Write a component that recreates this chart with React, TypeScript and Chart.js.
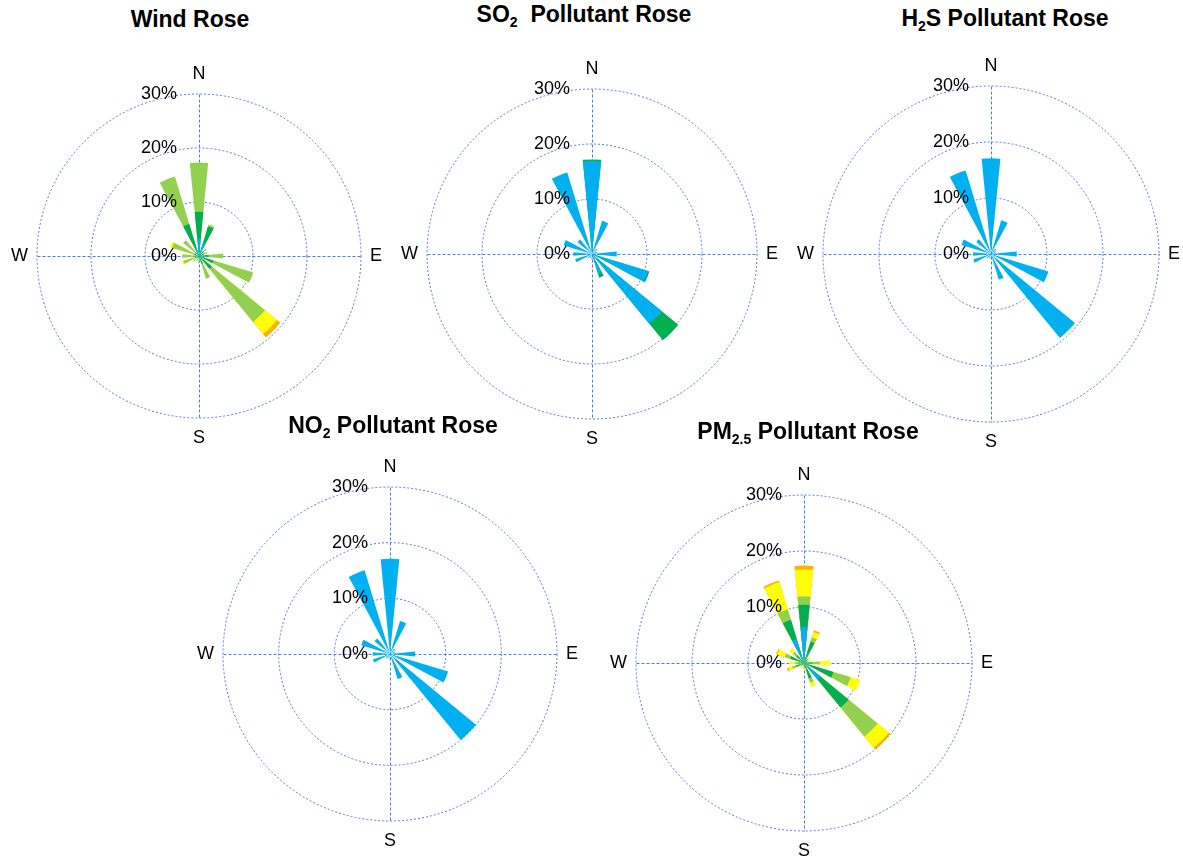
import React, { useEffect, useRef } from 'react';
import { Chart, registerables } from 'chart.js';

Chart.register(...registerables);

// ---------- data ----------
const directions = ['N', 'NNE', 'NE', 'ENE', 'E', 'ESE', 'SE', 'SSE', 'S', 'SSW', 'SW', 'WSW', 'W', 'WNW', 'NW', 'NNW'];
const cardinalLabels = ['N', 'E', 'S', 'W'];
const tickValues = [0, 10, 20, 30];
const classNames = ['Class 1', 'Class 2', 'Class 3', 'Class 4', 'Class 5'];
const classColors = ['#00B0F0', '#00B050', '#92D050', '#FFFF00', '#FFB000'];

// Wind rose (% of time, stacked increments per class)
const windBlue = [3.3, 2.5, 0.8, 0.5, 0.5, 1.0, 1.0, 0.5, 0.3, 0.3, 0.3, 0.3, 0.3, 0.3, 0.3, 1.5];
const windDarkGreen = [4.9, 3.2, 0.4, 0.5, 1.3, 1.8, 2.1, 1.0, 0.3, 0.2, 0.3, 0.5, 0.5, 0.7, 0.7, 4.7];
const windLightGreen = [9.1, 0.4, 0.6, 0.6, 2.7, 7.7, 12.7, 2.9, 0.7, 0.5, 0.8, 2.2, 2.3, 4.2, 2.8, 9.2];
const windYellow = [0, 0, 0, 0, 0, 0, 2.9, 0, 0, 0, 0, 0.3, 0, 0.4, 0, 0];
const windOrange = [0, 0, 0, 0, 0, 0, 0.8, 0, 0, 0, 0, 0, 0, 0, 0, 0];

// SO2 pollutant rose
const so2Blue = [16.9, 6.3, 1.2, 1.0, 4.5, 10.7, 16.4, 3.8, 1.0, 0.8, 1.0, 3.2, 3.4, 5.4, 3.4, 15.5];
const so2DarkGreen = [0.3, 0, 0, 0, 0, 0.2, 3.9, 0.7, 0, 0, 0, 0, 0, 0, 0, 0];

// H2S pollutant rose
const h2sBlue = [17.1, 6.3, 1.2, 1.0, 4.6, 10.7, 19.4, 4.8, 1.0, 0.8, 1.0, 3.3, 3.2, 5.5, 3.4, 15.6];

// NO2 pollutant rose
const no2Blue = [17.1, 6.2, 1.2, 1.0, 4.5, 10.9, 20.0, 4.7, 1.0, 0.8, 1.0, 3.2, 3.1, 5.4, 3.6, 15.7];

// PM2.5 pollutant rose
const pmBlue = [6.4, 1.8, 0.4, 0.3, 0.5, 0.8, 3.8, 0.8, 0.3, 0.2, 0.3, 0.4, 0.4, 1.0, 0.8, 4.5];
const pmDarkGreen = [4.0, 2.2, 0.4, 0.3, 1.0, 4.7, 6.5, 2.1, 0.3, 0.2, 0.2, 1.1, 0.6, 1.6, 1.0, 3.55];
const pmLightGreen = [1.5, 0.8, 0.3, 0.3, 1.3, 3.2, 6.7, 0.8, 0.3, 0.2, 0.3, 0.7, 0.6, 1.0, 0.8, 1.95];
const pmYellow = [4.8, 1.0, 0.4, 0.3, 1.9, 1.8, 2.6, 0.8, 0.3, 0.3, 0.3, 0.7, 1.1, 1.4, 0.8, 5.1];
const pmOrange = [0.7, 0.3, 0, 0, 0, 0, 0.4, 0, 0, 0, 0, 0.3, 0, 0.2, 0, 0.3];

// ---------- styling ----------
const PAD = 48;
const GRID_COLOR = '#4A7FCF';
const TEXT_FONT = '18px "Liberation Sans", Arial, sans-serif';

// 32 slices: petal (centered on direction) alternating with an empty gap
const sliceLabels: string[] = [];
directions.forEach((d) => { sliceLabels.push(d); sliceLabels.push(''); });

function expand(values: number[]): number[] {
  const out: number[] = [];
  values.forEach((v) => { out.push(v); out.push(0); });
  return out;
}

function buildDatasets(series: number[][]) {
  const datasets: any[] = [];
  const running = directions.map(() => 0);
  series.forEach((inc, c) => {
    const vals = directions.map((_, d) => {
      running[d] += inc[d];
      return inc[d] > 0 ? running[d] : 0;
    });
    if (inc.some((v) => v > 0)) {
      datasets.push({
        label: classNames[c],
        data: expand(vals),
        backgroundColor: classColors[c],
        borderWidth: 0,
      });
    }
  });
  return datasets;
}

const rosePlugin = {
  id: 'roseDecor',
  beforeDatasetsDraw(chart: any) {
    const s = chart.scales.r;
    const ctx = chart.ctx;
    const cx = s.xCenter + 0.5;
    const cy = s.yCenter + 0.5;
    const r = s.getDistanceFromCenterForValue(s.max);
    ctx.save();
    ctx.strokeStyle = GRID_COLOR;
    ctx.lineWidth = 1;
    ctx.setLineDash([3, 2]);
    ctx.beginPath();
    ctx.moveTo(cx - r, cy);
    ctx.lineTo(cx + r, cy);
    ctx.moveTo(cx, cy - r);
    ctx.lineTo(cx, cy + r);
    ctx.stroke();
    ctx.restore();
  },
  afterDraw(chart: any) {
    const s = chart.scales.r;
    const ctx = chart.ctx;
    const cx = s.xCenter;
    const cy = s.yCenter;
    const r = s.getDistanceFromCenterForValue(s.max);
    ctx.save();
    ctx.fillStyle = '#000';
    ctx.font = TEXT_FONT;
    ctx.textAlign = 'right';
    ctx.textBaseline = 'middle';
    s.ticks.forEach((t: any) => {
      const d = s.getDistanceFromCenterForValue(t.value);
      ctx.fillText(t.label, cx - 22, cy - d);
    });
    ctx.textAlign = 'center';
    ctx.fillText(cardinalLabels[0], cx, cy - r - 20);
    ctx.fillText(cardinalLabels[2], cx, cy + r + 20);
    ctx.textAlign = 'left';
    ctx.fillText(cardinalLabels[1], cx + r + 9, cy);
    ctx.textAlign = 'right';
    ctx.fillText(cardinalLabels[3], cx - r - 9, cy);
    ctx.restore();
  },
};

function Rose({ cx, cy, radius, series }: { cx: number; cy: number; radius: number; series: number[][] }) {
  const ref = useRef<HTMLCanvasElement>(null);
  useEffect(() => {
    const canvas = ref.current;
    if (!canvas) return;
    const chart = new Chart(canvas, {
      type: 'polarArea',
      data: { labels: sliceLabels, datasets: buildDatasets(series) },
      options: {
        responsive: false,
        maintainAspectRatio: false,
        animation: false,
        layout: { padding: PAD },
        plugins: { legend: { display: false }, tooltip: { enabled: false } },
        scales: {
          r: {
            min: tickValues[0],
            max: tickValues[tickValues.length - 1],
            startAngle: -5.625,
            ticks: {
              display: false,
              stepSize: tickValues[1] - tickValues[0],
              callback: (v: any) => v + '%',
            },
            grid: { circular: true, color: GRID_COLOR, lineWidth: 1 },
            border: { dash: [2, 2] },
            angleLines: { display: false },
            pointLabels: { display: false },
          },
        },
      } as any,
      plugins: [rosePlugin],
    });
    return () => chart.destroy();
  }, [series]);
  const size = 2 * (radius + PAD);
  return (
    <canvas
      ref={ref}
      width={size}
      height={size}
      style={{ position: 'absolute', left: cx - radius - PAD, top: cy - radius - PAD, width: size, height: size }}
    />
  );
}

function Title({ x, y, children }: { x: number; y: number; children: React.ReactNode }) {
  return (
    <div
      style={{
        position: 'absolute',
        left: x - 250,
        width: 500,
        top: y - 14,
        height: 28,
        lineHeight: '28px',
        textAlign: 'center',
        font: 'bold 23px "Liberation Sans", Arial, sans-serif',
        color: '#000',
        whiteSpace: 'pre',
      }}
    >
      {children}
    </div>
  );
}

const subStyle: React.CSSProperties = { fontSize: '14px', lineHeight: 0, verticalAlign: '-5px' };

const windSeries = [windBlue, windDarkGreen, windLightGreen, windYellow, windOrange];
const so2Series = [so2Blue, so2DarkGreen];
const h2sSeries = [h2sBlue];
const no2Series = [no2Blue];
const pmSeries = [pmBlue, pmDarkGreen, pmLightGreen, pmYellow, pmOrange];

export default function App() {
  return (
    <div style={{ position: 'fixed', left: 0, top: 0, width: 1183, height: 858, overflow: 'hidden', background: '#fff' }}>
      <Rose cx={199} cy={256} radius={162} series={windSeries} />
      <Rose cx={592} cy={254} radius={165} series={so2Series} />
      <Rose cx={991} cy={254} radius={168} series={h2sSeries} />
      <Rose cx={390} cy={654} radius={167} series={no2Series} />
      <Rose cx={804} cy={663} radius={168} series={pmSeries} />
      <Title x={190} y={20}>Wind Rose</Title>
      <Title x={584} y={15}>SO<sub style={subStyle}>2</sub>{'  Pollutant Rose'}</Title>
      <Title x={1005} y={19}>H<sub style={subStyle}>2</sub>S Pollutant Rose</Title>
      <Title x={393} y={426}>NO<sub style={subStyle}>2</sub> Pollutant Rose</Title>
      <Title x={808} y={432}>PM<sub style={subStyle}>2.5</sub> Pollutant Rose</Title>
    </div>
  );
}
